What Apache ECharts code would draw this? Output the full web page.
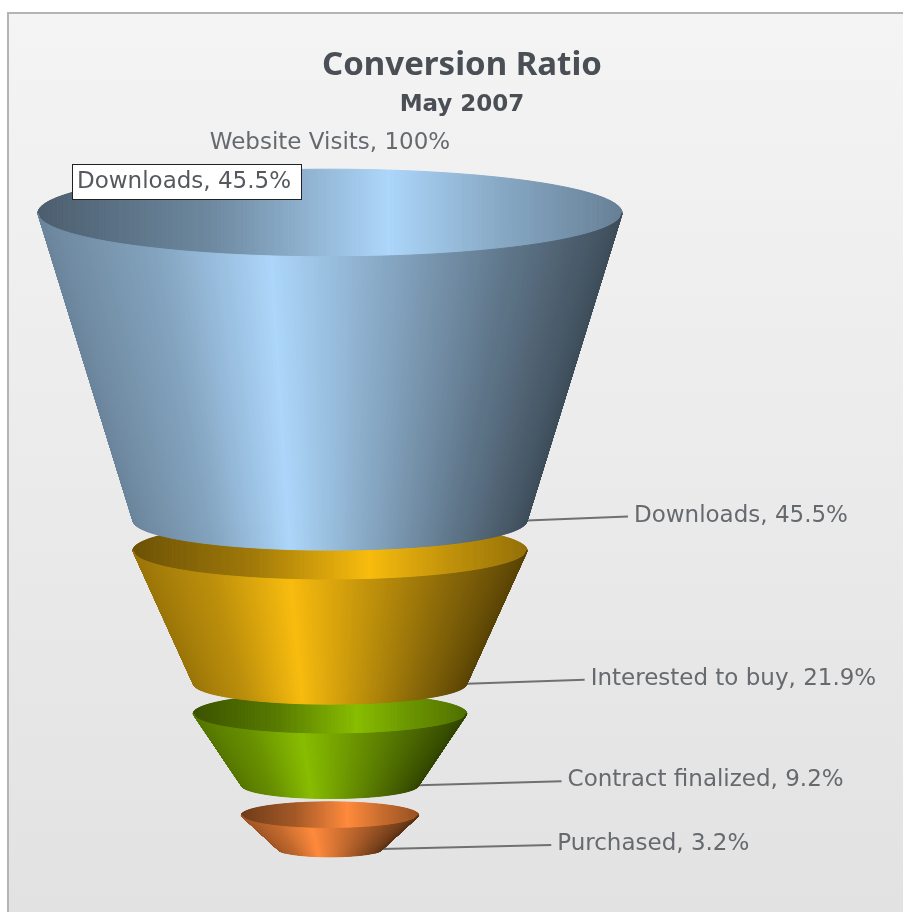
<!DOCTYPE html>
<html>
<head>
<meta charset="utf-8">
<title>Conversion Ratio</title>
<script src="https://cdn.jsdelivr.net/npm/echarts@6/dist/echarts.min.js"></script>
<style>
    html, body { margin: 0; padding: 0; background: #fff; }
    #chart { width: 903px; height: 912px; }
</style>
</head>
<body>
<div id="chart"></div>
<script>
var stages = ['Website Visits', 'Downloads', 'Interested to buy', 'Contract finalized', 'Purchased'];
var percents = [100, 45.5, 21.9, 9.2, 3.2];
var segmentColors = [[172, 214, 250], [248, 188, 14], [136, 189, 0], [255, 138, 60]];

// funnel shape: width goes with sqrt(value), height with the drop in value
var GAP = 5.3;          // space between the segments, in value units
var TILT = 0.15;        // ellipse height / width
var STRIPS = 240;
var labelLineLength = [101, 118, 143, 169];
var labelFont = '23px "DejaVu Sans"';

// brightness along the surface, left to right [t, factor]
var frontRamp = [[0, 0.62], [0.2, 0.76], [0.4, 1], [0.6, 0.78], [0.8, 0.56], [1, 0.36]];
var rimRamp = [[0, 0.44], [0.3, 0.64], [0.6, 1], [0.8, 0.78], [1, 0.6]];

function shade(color, ramp, t) {
    var f = ramp[ramp.length - 1][1];
    for (var i = 1; i < ramp.length; i++) {
        if (t <= ramp[i][0]) {
            var a = ramp[i - 1], b = ramp[i];
            f = a[1] + (b[1] - a[1]) * (t - a[0]) / (b[0] - a[0]);
            break;
        }
    }
    return 'rgb(' + color.map(function (c) { return Math.round(c * f); }).join(',') + ')';
}

function edgeY(rx, t, sign) {
    var u = 2 * t - 1;
    return sign * rx * TILT * Math.sqrt(Math.max(0, 1 - u * u));
}

function strip(points, color, z2) {
    return {
        type: 'polygon',
        shape: { points: points },
        style: { fill: color, stroke: color, lineWidth: 1 },
        z2: z2,
        silent: true
    };
}

// position across the cone, packed towards the edges so the corners stay round
function stripT(s) {
    return (1 - Math.cos(Math.PI * s / STRIPS)) / 2;
}

function renderSegment(params, api) {
    var i = api.value(0);
    var top = 100 - percents[i] + i * GAP;
    var bottom = 100 - percents[i + 1] + i * GAP;
    var center = api.coord([0, top])[0];
    var topY = api.coord([0, top])[1];
    var botY = api.coord([0, bottom])[1];
    var rTop = api.coord([Math.sqrt(percents[i]), top])[0] - center;
    var rBot = api.coord([Math.sqrt(percents[i + 1]), top])[0] - center;
    var color = segmentColors[i];
    var z = (4 - i) * 10;
    var children = [];

    for (var s = 0; s < STRIPS; s++) {
        var t0 = stripT(s), t1 = stripT(s + 1), tm = (t0 + t1) / 2;
        var x0 = center + rTop * (2 * t0 - 1), x1 = center + rTop * (2 * t1 - 1);
        // inside of the rim
        children.push(strip([
            [x0, topY + edgeY(rTop, t0, -1)],
            [x1, topY + edgeY(rTop, t1, -1)],
            [x1, topY + edgeY(rTop, t1, 1)],
            [x0, topY + edgeY(rTop, t0, 1)]
        ], shade(color, rimRamp, tm), z));
        // outer front surface
        children.push(strip([
            [x0, topY + edgeY(rTop, t0, 1)],
            [x1, topY + edgeY(rTop, t1, 1)],
            [center + rBot * (2 * t1 - 1), botY + edgeY(rBot, t1, 1)],
            [center + rBot * (2 * t0 - 1), botY + edgeY(rBot, t0, 1)]
        ], shade(color, frontRamp, tm), z + 1));
    }

    // label of the stage this segment ends on
    var lineEnd = center + rBot + labelLineLength[i];
    children.push({
        type: 'line',
        shape: { x1: center + rBot, y1: botY, x2: lineEnd, y2: botY - 4 },
        style: { stroke: '#707070', lineWidth: 2 },
        z2: 5,
        silent: true
    });
    children.push({
        type: 'text',
        x: lineEnd + 6,
        y: botY - 5,
        style: {
            text: stages[i + 1] + ', ' + percents[i + 1] + '%',
            font: labelFont,
            fill: '#666a6e',
            align: 'left',
            verticalAlign: 'middle'
        },
        z2: 60
    });

    if (i === 0) {
        children.push({
            type: 'text',
            x: center,
            y: topY - 70,
            style: {
                text: stages[0] + ', ' + percents[0] + '%',
                font: labelFont,
                fill: '#666a6e',
                align: 'center',
                verticalAlign: 'middle'
            },
            z2: 60
        });
    }

    return { type: 'group', children: children };
}

var chart = echarts.init(document.getElementById('chart'), null, { renderer: 'canvas' });

var option = {
    animation: false,
    backgroundColor: '#ffffff',
    title: {
        text: 'Conversion Ratio',
        subtext: 'May 2007',
        left: 457,
        top: 44,
        textAlign: 'center',
        itemGap: 12,
        textStyle: { fontFamily: 'Noto Sans', fontSize: 33, fontWeight: 'bold', color: '#4a4f55' },
        subtextStyle: { fontFamily: 'DejaVu Sans', fontSize: 23, fontWeight: 'bold', color: '#4a4f55' }
    },
    grid: { left: 38, width: 584, top: 213, height: 636 },
    xAxis: { type: 'value', min: -10, max: 10, show: false },
    yAxis: { type: 'value', min: 0, max: 100 - percents[4] + 3 * GAP, inverse: true, show: false },
    series: [{
        type: 'custom',
        coordinateSystem: 'cartesian2d',
        clip: false,
        silent: true,
        renderItem: renderSegment,
        data: [[0], [1], [2], [3]]
    }],
    graphic: [
        {
            type: 'rect',
            z: -10,
            silent: true,
            shape: { x: 8, y: 13, width: 900, height: 905 },
            style: {
                fill: new echarts.graphic.LinearGradient(0, 0, 0, 1, [
                    { offset: 0, color: '#f4f4f4' },
                    { offset: 1, color: '#e2e2e2' }
                ]),
                stroke: '#b4b4b4',
                lineWidth: 2
            }
        },
        {
            type: 'text',
            z: 100,
            silent: true,
            x: 73,
            y: 165,
            style: {
                text: 'Downloads, 45.5%',
                font: labelFont,
                fill: '#55595e',
                backgroundColor: '#ffffff',
                borderColor: '#222222',
                borderWidth: 1,
                padding: [6, 10, 5, 4]
            }
        }
    ]
};

chart.setOption(option);
</script>
</body>
</html>
